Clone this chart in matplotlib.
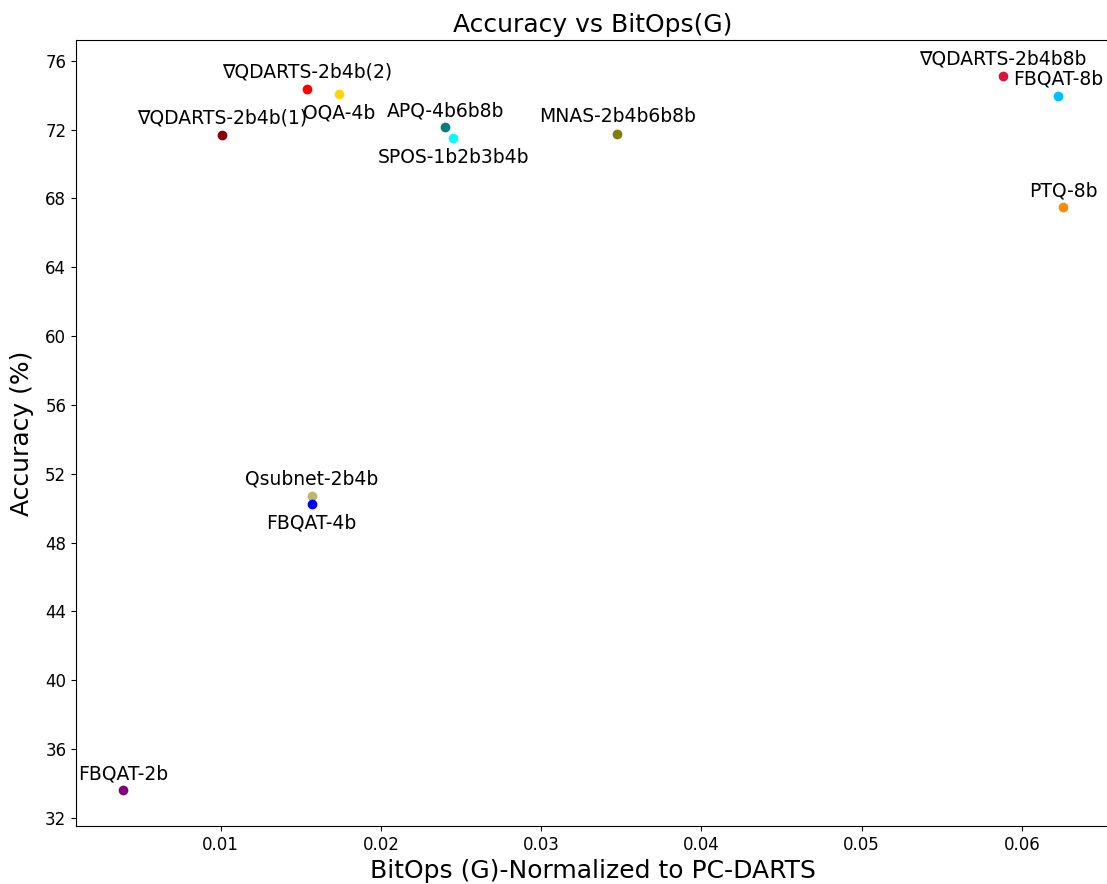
import matplotlib
matplotlib.use("Agg")
import matplotlib.pyplot as plt

# Quantized model results: normalized BitOps vs top-1 accuracy
methods = ["FBQAT-2b", "∇QDARTS-2b4b(1)", "∇QDARTS-2b4b(2)", "OQA-4b",
           "APQ-4b6b8b", "SPOS-1b2b3b4b", "MNAS-2b4b6b8b", "∇QDARTS-2b4b8b",
           "FBQAT-8b", "PTQ-8b", "Qsubnet-2b4b", "FBQAT-4b"]
bitops = [0.0039, 0.0101, 0.01536, 0.01736, 0.0240, 0.0245, 0.03474,
          0.05882, 0.06224, 0.06256, 0.01567, 0.01567]
accuracy = [33.6, 71.7, 74.37, 74.08, 72.12, 71.48, 71.77,
            75.13, 73.97, 67.48, 50.72, 50.26]
colors = ["purple", "darkred", "red", "gold", "teal", "cyan", "olive",
          "crimson", "deepskyblue", "darkorange", "darkkhaki", "blue"]
label_below = ["OQA-4b", "SPOS-1b2b3b4b", "FBQAT-4b"]

fig = plt.figure(figsize=(11.07, 8.84), dpi=100)
ax = fig.add_axes([0.0687, 0.0656, 0.934, 0.8892])

for name, x, y, c in zip(methods, bitops, accuracy, colors):
    ax.scatter(x, y, color=c, s=36, zorder=3)
    if name in label_below:
        ax.annotate(name, (x, y), textcoords="offset points", xytext=(0, -7),
                    ha="center", va="top", fontsize=13.5)
    else:
        ax.annotate(name, (x, y), textcoords="offset points", xytext=(0, 8),
                    ha="center", va="baseline", fontsize=13.5)

ax.set_yticks(range(32, 77, 4))
ax.set_xticks([0.01, 0.02, 0.03, 0.04, 0.05, 0.06])
ax.set_xticklabels(["0.01", "0.02", "0.03", "0.04", "0.05", "0.06"])
ax.tick_params(labelsize=12)
ax.spines["right"].set_visible(False)

ax.set_title("Accuracy vs BitOps(G)", fontsize=18)
ax.set_xlabel("BitOps (G)-Normalized to PC-DARTS", fontsize=18)
ax.set_ylabel("Accuracy (%)", fontsize=18, labelpad=8)

fig.savefig("out.png", dpi=100)
